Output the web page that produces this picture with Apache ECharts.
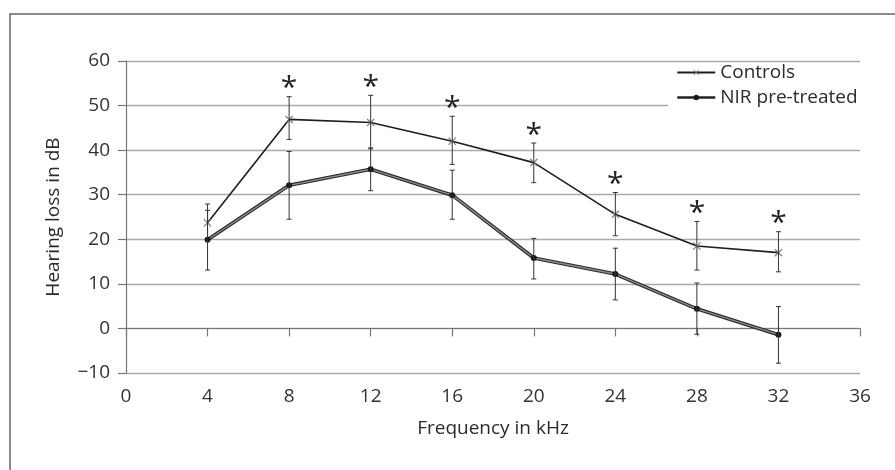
<!DOCTYPE html>
<html>
<head>
<meta charset="utf-8">
<script src="https://cdn.jsdelivr.net/npm/echarts@6/dist/echarts.min.js"></script>
<style>
  html, body { margin: 0; padding: 0; background: #fff; }
  #chart { width: 895px; height: 470px; }
</style>
</head>
<body>
<div id="chart"></div>
<script>
// frequencies (kHz)
var freq = [4, 8, 12, 16, 20, 24, 28, 32]
// controls: mean and error bar ends (dB)
var controlsMean = [23.7, 46.9, 46.2, 42.0, 37.2, 25.6, 18.5, 17.0]
var controlsUpper = [27.9, 52.0, 52.3, 47.6, 41.6, 30.5, 24.0, 21.7]
var controlsLower = [19.5, 42.4, 40.3, 36.8, 32.7, 20.8, 13.1, 12.7]
// NIR pre-treated
var nirMean = [19.9, 32.1, 35.7, 29.9, 15.8, 12.2, 4.4, -1.4]
var nirUpper = [26.5, 39.7, 40.5, 35.5, 20.2, 18.0, 10.2, 4.9]
var nirLower = [13.1, 24.5, 30.9, 24.5, 11.1, 6.4, -1.3, -7.8]
// significance asterisks
var significant = [0, 1, 1, 1, 1, 1, 1, 1]
var xTicks = [0, 4, 8, 12, 16, 20, 24, 28, 32, 36]
var yTicks = [-10, 0, 10, 20, 30, 40, 50, 60]

var FONT = 'Open Sans'
var crossPath = 'path://M0,1L1,0L5,4L9,0L10,1L6,5L10,9L9,10L5,6L1,10L0,9L4,5Z'

function pairs (ys) {
  return freq.map(function (f, i) { return [f, ys[i]] })
}

function errData (lo, hi, star) {
  return freq.map(function (f, i) { return [f, lo[i], hi[i], star ? star[i] : 0] })
}

function renderErr (params, api) {
  var x = api.value(0)
  var pLo = api.coord([x, api.value(1)])
  var pHi = api.coord([x, api.value(2)])
  var c = 2.5
  var st = { stroke: '#333', lineWidth: 1 }
  var children = [
    { type: 'line', shape: { x1: pLo[0], y1: pLo[1], x2: pHi[0], y2: pHi[1] }, style: st },
    { type: 'line', shape: { x1: pLo[0] - c, y1: pLo[1], x2: pLo[0] + c, y2: pLo[1] }, style: st },
    { type: 'line', shape: { x1: pHi[0] - c, y1: pHi[1], x2: pHi[0] + c, y2: pHi[1] }, style: st }
  ]
  if (api.value(3)) {
    children.push({
      type: 'text',
      style: {
        text: '*', x: pHi[0], y: pHi[1] - 8,
        align: 'center', verticalAlign: 'middle',
        fontFamily: FONT, fontSize: 30, fill: '#222'
      }
    })
  }
  return { type: 'group', children: children }
}

var myChart = echarts.init(document.getElementById('chart'))
var option = {
  backgroundColor: '#fff',
  animation: false,
  textStyle: { fontFamily: FONT, color: '#2b2b2b' },
  graphic: [{
    type: 'rect',
    shape: { x: 10, y: 14, width: 1000, height: 600 },
    style: { fill: 'none', stroke: '#666', lineWidth: 1.5 },
    silent: true
  }],
  grid: { left: 126, right: 35, top: 61, bottom: 97 },
  legend: {
    orient: 'vertical',
    left: 668,
    top: 63,
    padding: [0, 3, 4, 8],
    backgroundColor: '#fff',
    itemWidth: 38,
    itemHeight: 7,
    itemGap: 6,
    textStyle: { fontFamily: FONT, fontSize: 19, color: '#2b2b2b' },
    data: [
      { name: 'Controls' },
      { name: 'NIR pre-treated', lineStyle: { color: '#222', width: 2.5 } }
    ]
  },
  xAxis: {
    type: 'value',
    min: 0,
    max: 36,
    interval: 4,
    name: 'Frequency in kHz',
    nameLocation: 'middle',
    nameGap: 46,
    nameTextStyle: { fontFamily: FONT, fontSize: 19, color: '#2b2b2b' },
    axisLine: { lineStyle: { color: '#777', width: 1.2 } },
    axisTick: { length: 8, lineStyle: { color: '#777', width: 1.2 } },
    axisLabel: {
      fontFamily: FONT, fontSize: 19, color: '#333', margin: 14,
      formatter: function (v) { return xTicks.indexOf(v) >= 0 ? String(v) : '' }
    },
    splitLine: { show: false }
  },
  yAxis: {
    type: 'value',
    min: -10,
    max: 60,
    interval: 10,
    name: 'Hearing loss in dB',
    nameLocation: 'middle',
    nameGap: 63,
    nameRotate: 90,
    nameTextStyle: { fontFamily: FONT, fontSize: 19, color: '#2b2b2b' },
    axisLine: { show: true, lineStyle: { color: '#777', width: 1.2 } },
    axisTick: { show: true, length: 8, lineStyle: { color: '#777', width: 1.2 } },
    axisLabel: {
      fontFamily: FONT, fontSize: 19, color: '#333', margin: 16,
      formatter: function (v) {
        if (yTicks.indexOf(v) < 0) return ''
        return v < 0 ? '\u2212' + Math.abs(v) : String(v)
      }
    },
    splitLine: { lineStyle: { color: '#aaa', width: 1.3 } }
  },
  series: [
    {
      name: 'NIR outline',
      type: 'line',
      data: pairs(nirMean),
      showSymbol: false,
      silent: true,
      z: 1,
      lineStyle: { color: '#2a2a2a', width: 3.6 }
    },
    {
      name: 'NIR pre-treated',
      type: 'line',
      data: pairs(nirMean),
      symbol: 'circle',
      symbolSize: 6,
      z: 3,
      itemStyle: { color: '#1a1a1a' },
      lineStyle: { color: '#8c8c8c', width: 1.4 }
    },
    {
      name: 'Controls',
      type: 'line',
      data: pairs(controlsMean),
      symbol: crossPath,
      symbolSize: 8,
      z: 3,
      itemStyle: { color: '#777' },
      lineStyle: { color: '#1e1e1e', width: 1.6 }
    },
    {
      type: 'custom',
      name: 'NIR err',
      data: errData(nirLower, nirUpper),
      renderItem: renderErr,
      z: 4,
      silent: true
    },
    {
      type: 'custom',
      name: 'Controls err',
      data: errData(controlsLower, controlsUpper, significant),
      renderItem: renderErr,
      z: 4,
      silent: true
    }
  ]
}
myChart.setOption(option)
</script>
</body>
</html>
